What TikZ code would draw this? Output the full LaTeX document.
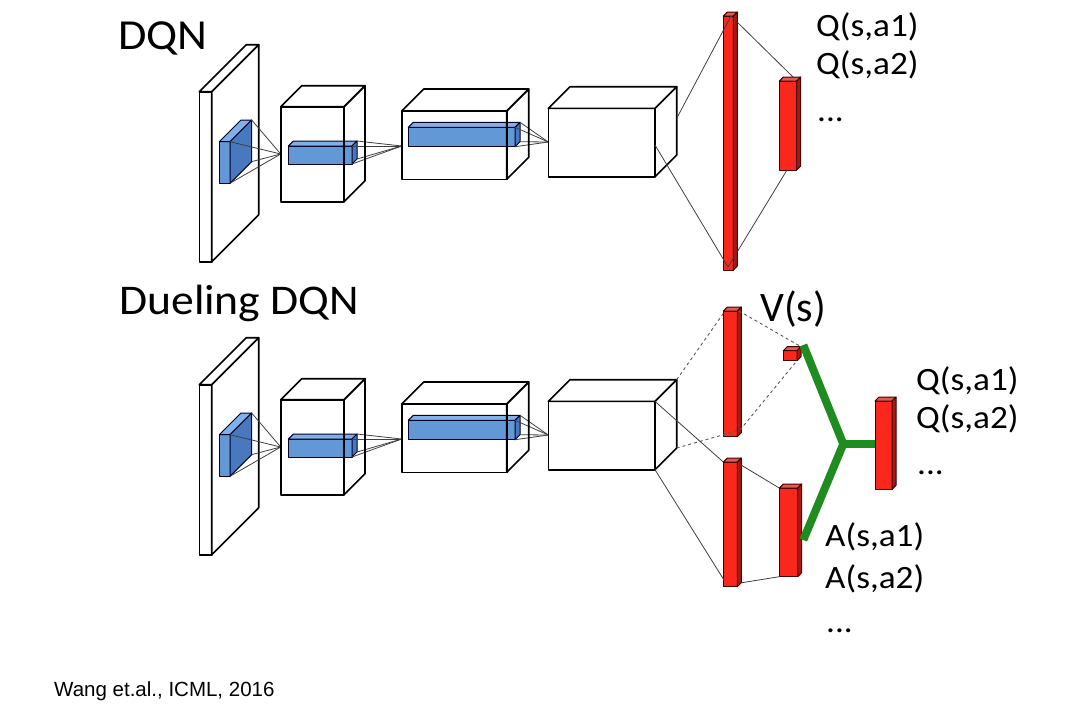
\documentclass[tikz,border=0pt]{standalone}
\usepackage{fontspec}
\setmainfont{Carlito}
\newfontfamily\widef[FakeStretch=1.08]{Carlito}
\newfontfamily\arialf{Liberation Sans}
\definecolor{bluefrontc}{RGB}{98,152,214}
\definecolor{bluetopc}{RGB}{128,176,232}
\definecolor{bluesidec}{RGB}{72,120,190}
\definecolor{redfrontc}{RGB}{250,40,28}
\definecolor{redtopc}{RGB}{230,90,80}
\definecolor{redsidec}{RGB}{170,24,16}
\definecolor{linkgreen}{RGB}{30,140,30}
\tikzset{
  cubeline/.style={draw=black, line width=1.6pt, line join=round},
  whitefront/.style={cubeline, fill=white},
  whitetop/.style={cubeline, fill=white},
  whiteside/.style={cubeline, fill=white},
  wirefront/.style={cubeline},
  wiretop/.style={cubeline},
  wireside/.style={cubeline},
  bluefront/.style={draw=black!85!blue, line width=1pt, line join=round, fill=bluefrontc},
  bluetop/.style={draw=black!85!blue, line width=1pt, line join=round, fill=bluetopc},
  blueside/.style={draw=black!85!blue, line width=1pt, line join=round, fill=bluesidec},
  redfront/.style={draw=black!75!red, line width=1pt, line join=round, fill=redfrontc},
  redtop/.style={draw=black!75!red, line width=1pt, line join=round, fill=redtopc},
  redside/.style={draw=black!75!red, line width=1pt, line join=round, fill=redsidec},
  ray/.style={draw=black!75, line width=0.8pt},
  dashray/.style={draw=black!65, line width=0.9pt, dashed},
  greenlink/.style={draw=linkgreen, line width=8pt},
  lbl/.style={inner sep=0pt, anchor=base west},
  qlbl/.style={lbl, font=\widef\fontsize{32.6}{32.6}\selectfont},
}
% name, x, y, w, h, d, style set
\newcommand\cuboid[7]{%
  \coordinate (#1-ftl) at (#2,#3);
  \coordinate (#1-ftr) at (#2+#4,#3);
  \coordinate (#1-fbr) at (#2+#4,#3+#5);
  \coordinate (#1-fbl) at (#2,#3+#5);
  \coordinate (#1-btl) at (#2+#6,#3-#6);
  \coordinate (#1-btr) at (#2+#4+#6,#3-#6);
  \coordinate (#1-bbr) at (#2+#4+#6,#3+#5-#6);
  \path[#7front] (#1-ftl) rectangle (#1-fbr);
  \path[#7top] (#1-ftl) -- (#1-btl) -- (#1-btr) -- (#1-ftr) -- cycle;
  \path[#7side] (#1-ftr) -- (#1-btr) -- (#1-bbr) -- (#1-fbr) -- cycle;
}
\newcommand\cnnpart[1]{%
  \cuboid{#1in}{199.3}{91.7}{12.4}{170}{47}{white}
  \cuboid{#1k}{219.3}{141.7}{10.7}{41.6}{21.7}{blue}
  \coordinate (#1p1) at (280.7,154);
  \foreach \c in {ftr,fbr,btr,bbr} \draw[ray] (#1k-\c) -- (#1p1);
  \cuboid{#1b1}{288.3}{146}{63.7}{18}{5}{blue}
  \coordinate (#1p2) at (401.7,146);
  \foreach \c in {ftr,fbr,btr,bbr} \draw[ray] (#1b1-\c) -- (#1p2);
  \cuboid{#1c1}{280.7}{106.7}{63.3}{95}{21}{wire}
  \cuboid{#1b2}{408.3}{127.3}{106.7}{19.4}{5}{blue}
  \coordinate (#1p3) at (548.3,142);
  \foreach \c in {ftr,fbr,btr,bbr} \draw[ray] (#1b2-\c) -- (#1p3);
  \cuboid{#1c2}{401.7}{111}{105}{68.3}{22}{wire}
  \cuboid{#1c3}{548.3}{108.4}{106.7}{68.3}{21.7}{white}
}
\begin{document}
\begin{tikzpicture}[x=1pt,y=-1pt]
\useasboundingbox (0,0) rectangle (1084,724);
\fill[white] (0,0) rectangle (1084,724);

% ---------- DQN ----------
\cnnpart{t}
\cuboid{tf}{723.3}{16}{10}{254}{4}{red}
\cuboid{tq}{779.3}{81}{17.4}{89}{4}{red}
\coordinate (ta) at (676.7,118.3);
\coordinate (tb) at (655,145);
\coordinate (tftop) at (731,16);
\coordinate (tfbot) at (728,267);
\coordinate (tqtop) at (794,78);
\coordinate (tqbot) at (787,170);
\draw[ray] (ta) -- (tftop) -- (tqtop);
\draw[ray] (tb) -- (tfbot) -- (tqbot);

\node[lbl, font=\widef\fontsize{42.8}{42.8}\selectfont] (tdqn) at (118,49.3) {DQN};
\node[qlbl] (tq1) at (816,36) {Q(s,a1)};
\node[qlbl] (tq2) at (816,74) {Q(s,a2)};
\node[qlbl] (tq3) at (817,121) {...};

% ---------- Dueling DQN ----------
\begin{scope}[shift={(0,293)}]
\cnnpart{d}
\end{scope}
\cuboid{vf}{723.3}{311}{14}{125.7}{4}{red}
\cuboid{vs}{783.3}{350.7}{13.7}{10}{4}{red}
\cuboid{af}{723.3}{462}{14}{124.7}{4}{red}
\cuboid{aq}{779.3}{488}{18.4}{88.7}{4}{red}
\cuboid{qq}{875}{401}{17}{88.3}{4}{red}

\coordinate (vftop) at (725,311);
\coordinate (vftr) at (739,311);
\coordinate (vfbot) at (740,430);
\draw[dashray] (dc3-btr) -- (vftop);
\draw[dashray] (dc3-bbr) -- (vfbot);
\draw[dashray] (vftr) -- (vs-btr);
\draw[dashray] (vfbot) -- (vs-fbr);

\coordinate (afbl) at (724,580);
\coordinate (aftr) at (741,465);
\coordinate (afbr) at (740,583);
\draw[ray] (dc3-ftr) -- (af-ftl);
\draw[ray] (dc3-fbr) -- (afbl);
\draw[ray] (aftr) -- (aq-ftl);
\draw[ray] (afbr) -- (aq-fbl);

\coordinate (gv) at (803.3,345);
\coordinate (ga) at (803.3,540);
\coordinate (gj) at (843.3,444);
\coordinate (gq) at (875,444);
\draw[greenlink] (gv) -- (gj) -- (ga);
\draw[greenlink] (gj) -- (gq);

\node[lbl, font=\widef\fontsize{42.3}{42.3}\selectfont] (ddqn) at (119,314.3) {Dueling DQN};
\node[lbl, font=\fontsize{42}{42}\selectfont] (vlab) at (760,321) {V(s)};
\node[qlbl] (dq1) at (916,390) {Q(s,a1)};
\node[qlbl] (dq2) at (916,428) {Q(s,a2)};
\node[qlbl] (dq3) at (917,474) {...};
\node[qlbl] (da1) at (825,546) {A(s,a1)};
\node[qlbl] (da2) at (825,588) {A(s,a2)};
\node[qlbl] (da3) at (826,632) {...};

\node[lbl, font=\arialf\fontsize{20.5}{20.5}\selectfont] (cite) at (54,696.5) {Wang et.al., ICML, 2016};
\end{tikzpicture}
\end{document}
